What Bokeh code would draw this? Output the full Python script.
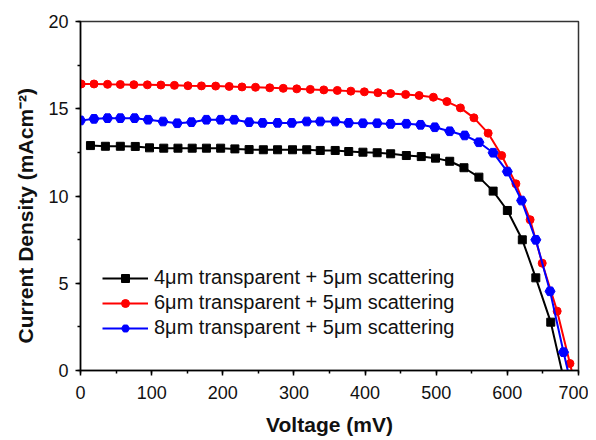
from bokeh.plotting import figure
from bokeh.models import Range1d, SingleIntervalTicker, Legend, LegendItem, Title
from bokeh.embed import file_html
from bokeh.resources import INLINE

# Voltage (mV) and current density (mA cm^-2)
v_4um = [14, 35, 56, 77, 97, 117, 137, 157, 177, 197, 217, 237, 257, 277, 298, 318, 337,
         358, 377, 397, 417, 436, 458, 479, 499, 519, 539, 560, 580, 600, 621, 640, 661, 681]
j_4um = [12.89, 12.85, 12.85, 12.84, 12.76, 12.74, 12.74, 12.74, 12.74, 12.74, 12.70, 12.66,
         12.65, 12.65, 12.65, 12.65, 12.61, 12.61, 12.55, 12.51, 12.48, 12.42, 12.32, 12.26,
         12.17, 11.99, 11.62, 11.08, 10.28, 9.17, 7.49, 5.31, 2.77, -0.8]

v_6um = [1, 19, 38, 56, 75, 94, 113, 132, 151, 170, 190, 209, 227, 246, 266, 285, 304, 323,
         342, 361, 380, 399, 418, 436, 457, 476, 496, 515, 534, 553, 573, 592, 612, 632, 649,
         670, 688, 705]
j_6um = [16.42, 16.42, 16.40, 16.39, 16.38, 16.37, 16.36, 16.34, 16.32, 16.31, 16.30, 16.28,
         16.25, 16.23, 16.20, 16.17, 16.14, 16.11, 16.08, 16.05, 16.01, 15.97, 15.92, 15.87,
         15.82, 15.76, 15.66, 15.41, 15.05, 14.48, 13.60, 12.32, 10.70, 8.64, 6.15, 3.40,
         0.40, -2.5]

v_8um = [0, 19, 38, 56, 76, 95, 116, 136, 156, 177, 197, 216, 237, 256, 277, 297, 318, 337,
         358, 377, 397, 417, 436, 458, 478, 498, 519, 540, 560, 580, 600, 620, 640, 660, 679, 699]
j_8um = [14.33, 14.42, 14.46, 14.46, 14.46, 14.37, 14.27, 14.17, 14.23, 14.37, 14.37, 14.37,
         14.23, 14.19, 14.19, 14.19, 14.27, 14.27, 14.27, 14.19, 14.17, 14.17, 14.13, 14.14,
         14.08, 13.94, 13.71, 13.47, 13.08, 12.48, 11.40, 9.74, 7.49, 4.54, 1.05, -2.5]

labels = ["4\u03bcm transparent + 5\u03bcm scattering",
          "6\u03bcm transparent + 5\u03bcm scattering",
          "8\u03bcm transparent + 5\u03bcm scattering"]

FONT = "Liberation Sans"

p = figure(width=588, height=432, output_backend="svg", toolbar_location=None,
           x_range=Range1d(0, 700), y_range=Range1d(0, 20),
           min_border_left=80, min_border_right=10, min_border_top=21, min_border_bottom=62)
p.frame_width = 498
p.frame_height = 349

p.grid.visible = False
p.outline_line_color = "#333333"
p.outline_line_width = 1.5
p.background_fill_color = "white"
p.border_fill_color = "white"

p.xaxis.ticker = SingleIntervalTicker(interval=100, num_minor_ticks=2)
p.yaxis.ticker = SingleIntervalTicker(interval=5, num_minor_ticks=2)
for ax in (p.xaxis[0], p.yaxis[0]):
    ax.axis_line_width = 1.5
    ax.axis_line_color = "black"
    ax.major_tick_line_width = 1.5
    ax.minor_tick_line_width = 1.5
    ax.major_tick_line_color = "black"
    ax.minor_tick_line_color = "black"
    ax.major_tick_out = 5
    ax.major_tick_in = 0
    ax.minor_tick_out = 3
    ax.minor_tick_in = 0
    ax.major_label_text_font = FONT
    ax.major_label_text_font_size = "18px"
    ax.major_label_text_color = "#111111"
    ax.axis_label_text_font = FONT
    ax.axis_label_text_font_size = "21px"
    ax.axis_label_text_font_style = "bold"
    ax.axis_label_text_color = "#111111"

p.xaxis.axis_label = "Voltage (mV)"
p.xaxis.major_label_standoff = 10
p.yaxis.major_label_standoff = 7
p.xaxis.axis_label_standoff = 11

# y-axis title placed in the left panel, starting a little above the x axis
ytitle = Title(text="Current Density (mAcm\u207b\u00b2)", align="left", offset=27,
               vertical_align="middle", standoff=16,
               text_font=FONT, text_font_size="21px", text_font_style="bold",
               text_color="#111111")
p.add_layout(ytitle, "left")

l1 = p.line(v_4um, j_4um, line_color="black", line_width=2)
m1 = p.scatter(v_4um, j_4um, marker="square", size=8, fill_color="black", line_color="black")
l2 = p.line(v_6um, j_6um, line_color="#ff0000", line_width=2)
m2 = p.scatter(v_6um, j_6um, marker="circle", size=8, fill_color="#ff0000", line_color="#ff0000")
l3 = p.line(v_8um, j_8um, line_color="#0000ff", line_width=2)
m3 = p.scatter(v_8um, j_8um, marker="hex", size=10, fill_color="#0000ff", line_color="#0000ff")

legend = Legend(items=[LegendItem(label=labels[0], renderers=[l1, m1]),
                       LegendItem(label=labels[1], renderers=[l2, m2]),
                       LegendItem(label=labels[2], renderers=[l3, m3])],
                location=(22, 31), padding=0, margin=0, spacing=2,
                glyph_width=46, glyph_height=20, label_standoff=6,
                label_text_font=FONT, label_text_font_size="20px",
                label_text_color="#111111",
                border_line_alpha=0, background_fill_alpha=0)
p.add_layout(legend, "center")

open("out.html", "w").write(file_html(p, INLINE))
